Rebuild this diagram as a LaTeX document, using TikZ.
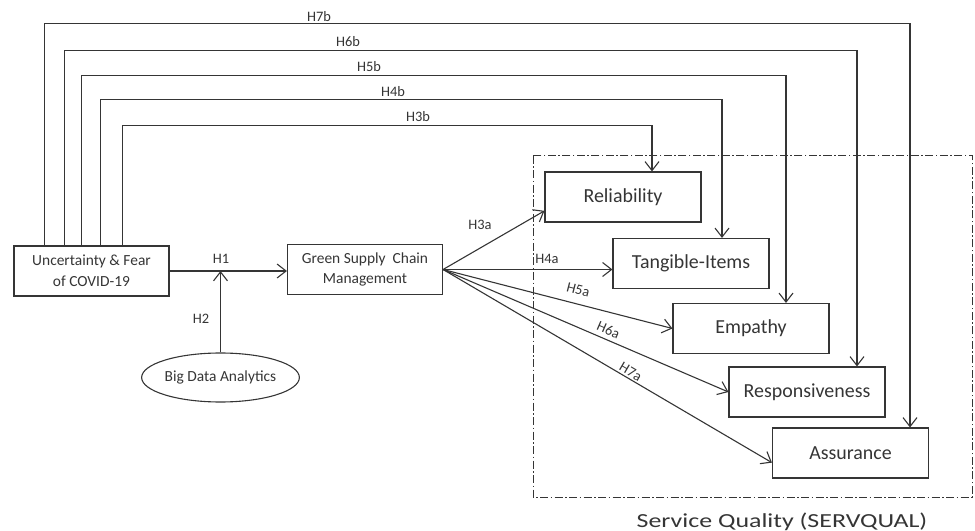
\documentclass[tikz,border=0pt]{standalone}
\usepackage{fontspec}
\usepackage{graphicx}
\setmainfont{Carlito}
\usetikzlibrary{arrows.meta,shapes.geometric}
\definecolor{inkgray}{HTML}{353535}

\begin{document}
\begin{tikzpicture}[x=1bp,y=-1bp,line width=1.1bp,color=inkgray,
  hyp/.style={-{Straight Barb[length=9bp,width=14bp]}},
  construct/.style={draw,minimum width=155bp,minimum height=50bp,align=center,font=\fontsize{15.5}{21}\selectfont},
  factor/.style={draw,minimum width=156bp,minimum height=50bp,font=\fontsize{20}{24}\selectfont},
  lbl/.style={font=\fontsize{14.5}{17}\selectfont,inner sep=1pt}]
\useasboundingbox (0,0) rectangle (975,531);
% Constructs
\node[construct] (uncert) at (91.5,271) {Uncertainty \& Fear\\of COVID-19};
\node[construct] (gscm) at (365,269.5) {Green Supply\ \ Chain\\Management};
\node[draw,ellipse,inner sep=0pt,minimum width=155bp,minimum height=49bp,font=\fontsize{15.5}{18}\selectfont] (bda) at (220.5,377.5) {Big Data Analytics};
% Service quality dimensions
\node[factor] (rel) at (623,197) {Reliability};
\node[factor] (tang) at (691,263.5) {Tangible-Items};
\node[factor] (emp) at (751,328.5) {Empathy};
\node[factor] (resp) at (807,392) {Responsiveness};
\node[factor] (assur) at (850.5,453) {Assurance};
\draw[line width=1bp,dash pattern=on 8bp off 2.5bp on 1.5bp off 2.5bp] (533,156) rectangle (972,497);
\node[anchor=base,font=\fontsize{20}{24}\selectfont] (servqual) at (782,527) {\scalebox{1.3}[1]{Service Quality (SERVQUAL)}};
% H1 and H2
\draw[hyp] (uncert.east) -- (uncert.east -| gscm.west);
\node[lbl] (h1) at (221,259) {H1};
\draw[hyp] (bda.north) -- (bda.north |- uncert.east);
\node[lbl] (h2) at (201,319) {H2};
% direct paths from GSCM
\coordinate (hub) at (gscm.east);
\draw[hyp] (hub) -- (rel.190);
\draw[hyp] (hub) -- (hub -| tang.west);
\draw[hyp] (hub) -- node[lbl,sloped,above,pos=0.574,inner sep=8.5bp] (h5a) {H5a} (emp.west);
\draw[hyp] (hub) -- node[lbl,sloped,above,pos=0.566,inner sep=4.3bp] (h6a) {H6a} (resp.west);
\draw[hyp] (hub) -- node[lbl,sloped,above,pos=0.56,inner sep=1.5bp] (h7a) {H7a} (assur.187);
\node[lbl] (h3a) at (480,225) {H3a};
\node[lbl] (h4a) at (547,259) {H4a};
% paths from uncertainty over the top
\draw[hyp] ([xshift=31bp]uncert.north west) -- ++(0,-222) -| ([xshift=59.5bp]assur.north);
\draw[hyp] ([xshift=51bp]uncert.north west) -- ++(0,-195) -| ([xshift=50bp]resp.north);
\draw[hyp] ([xshift=68bp]uncert.north west) -- ++(0,-170) -| ([xshift=35bp]emp.north);
\draw[hyp] ([xshift=87bp]uncert.north west) -- ++(0,-146) -| ([xshift=31bp]tang.north);
\draw[hyp] ([xshift=109bp]uncert.north west) -- ++(0,-120) -| ([xshift=29bp]rel.north);
\node[lbl] (h7b) at (319,17) {H7b};
\node[lbl] (h6b) at (348,42) {H6b};
\node[lbl] (h5b) at (369,67) {H5b};
\node[lbl] (h4b) at (393,92) {H4b};
\node[lbl] (h3b) at (418,117) {H3b};
\end{tikzpicture}
\end{document}
